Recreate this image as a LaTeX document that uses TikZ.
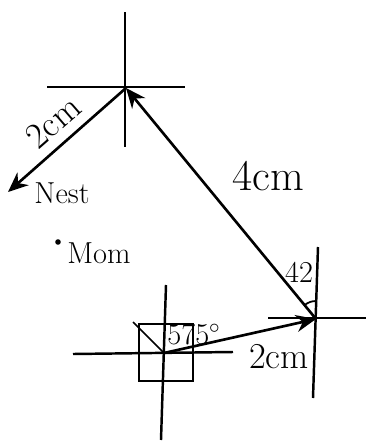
\documentclass[tikz,border=0pt]{standalone}
\usepackage{tikz}
\usetikzlibrary{arrows.meta,calc}
\tikzset{
  axis/.style={line width=1.4pt},
  thin/.style={line width=1pt},
  arr/.style={-{Stealth[length=4mm,width=3.4mm]}, line width=1.5pt},
  lbl/.style={font=\LARGE, inner sep=1pt},
  big/.style={font=\huge, inner sep=1pt}
}
\begin{document}
\begin{tikzpicture}[x=0.02cm,y=-0.02cm]
\useasboundingbox (0,0) rectangle (366,443);
% centres of the three crosses
\coordinate (top) at (126,88);
\coordinate (right) at (316,319);
\coordinate (bottom) at (164,353);
\coordinate (nest) at (8,192);
% crosses
\draw[axis] (125,12) -- (125,147);
\draw[axis] (47,87) -- (185,87);
\draw[axis] (318,247) -- (313,398);
\draw[axis] (268,318) -- (366,318);
\draw[axis] (166,285) -- (161,440);
\draw[axis] (73,354) -- (233,352);
% box at the start
\draw[thin] (139,324) rectangle (193,381);
\draw[thin] (133,322) -- (bottom);
% legs
\draw[arr] (top) -- (nest);
\draw[arr] (right) -- (top);
\draw[arr] (bottom) -- (right);
\draw[thin] ($(right)+(0,-18)$) arc[start angle=-90, end angle=-129, radius=18];
% labels
\node[big, rotate=41] (l2a) at (53,122) {2cm};
\node[lbl] (nestl) at (62,193) {Nest};
\fill (58,242) circle (2.8);
\node[lbl] (mom) at (99,253) {Mom};
\node[font=\Huge, inner sep=1pt] (l4) at (268,176) {4cm};
\node[lbl] (ang42) at (299,272) {42};
\node[lbl] (ang575) at (194,334) {575$^\circ$};
\node[big] (l2b) at (279,357) {2cm};
\end{tikzpicture}
\end{document}
